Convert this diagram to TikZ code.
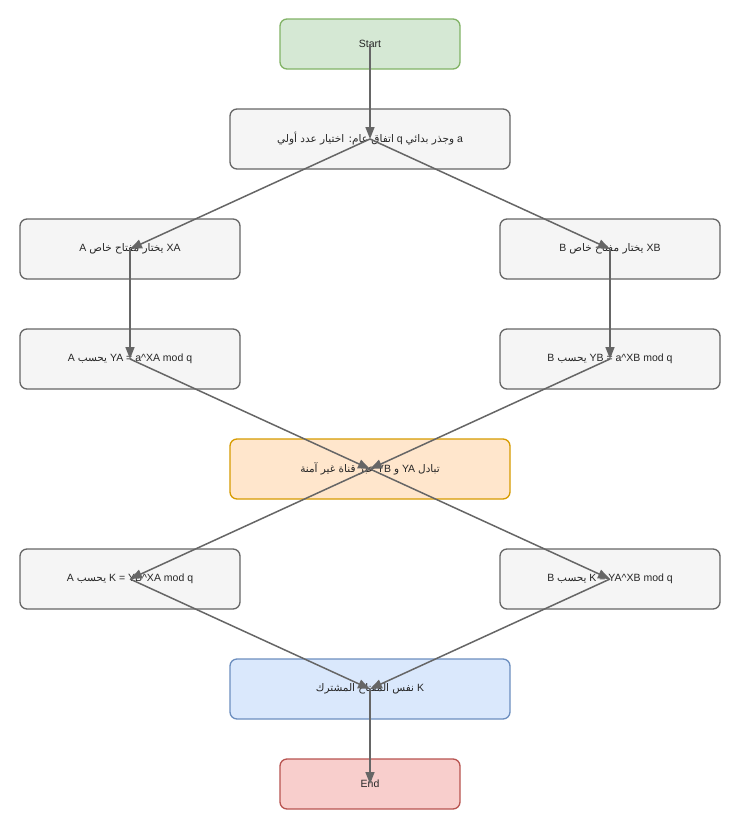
\documentclass[tikz,border=0pt]{standalone}
\usepackage{fontspec}
\setmainfont{Liberation Sans}
\newfontfamily\arfont[Script=Arabic]{DejaVu Sans}
\TeXXeTstate=1
\newcommand{\ar}[1]{{\arfont\beginR #1\endR}}
\usetikzlibrary{arrows.meta}
\definecolor{lc}{HTML}{666666}
\tikzset{
 box/.style={draw, rounded corners=7pt, line width=1.3pt, minimum height=60pt, font=\fontsize{10.5}{12}\selectfont, text=black!85},
 side/.style={box, minimum width=220pt, fill=black!4, draw=lc},
 wide/.style={box, minimum width=280pt},
 term/.style={box, minimum width=180pt, minimum height=50pt},
 arr/.style={draw=lc, line width=1.5pt, -{Triangle[length=12pt,width=9pt]}, fill=lc}
}
\begin{document}
\begin{tikzpicture}[x=1pt,y=-1pt]
\useasboundingbox (0,0) rectangle (740,830);
\fill[white] (0,0) rectangle (740,830);
\node[term, fill={rgb,255:red,213;green,232;blue,212}, draw={rgb,255:red,130;green,179;blue,102}] (start) at (370,44) {Start};
\node[wide, fill=black!4, draw=lc] (c) at (370,139) {\ar{اتفاق عام: اختيار عدد أولي} q \ar{وجذر بدائي} a};
\node[side] (a1) at (130,249) {A \ar{يختار مفتاح خاص} XA};
\node[side] (b1) at (610,249) {B \ar{يختار مفتاح خاص} XB};
\node[side] (a2) at (130,359) {A \ar{يحسب} YA = a\^{}XA mod q};
\node[side] (b2) at (610,359) {B \ar{يحسب} YB = a\^{}XB mod q};
\node[wide, fill={rgb,255:red,255;green,230;blue,204}, draw={rgb,255:red,215;green,155;blue,0}] (x) at (370,469) {\ar{عبر قناة غير آمنة} YB \ar{و} YA \ar{تبادل}};
\node[side] (a3) at (130,579) {A \ar{يحسب} K = YB\^{}XA mod q};
\node[side] (b3) at (610,579) {B \ar{يحسب} K = YA\^{}XB mod q};
\node[wide, fill={rgb,255:red,218;green,232;blue,252}, draw={rgb,255:red,108;green,142;blue,191}] (k) at (370,689) {\ar{نفس المفتاح المشترك} K};
\node[term, fill={rgb,255:red,248;green,206;blue,204}, draw={rgb,255:red,184;green,84;blue,80}] (end) at (370,784) {End};
\draw[arr] (start.center) -- (c.center);
\draw[arr] (c.center) -- (a1.center);
\draw[arr] (c.center) -- (b1.center);
\draw[arr] (a1.center) -- (a2.center);
\draw[arr] (b1.center) -- (b2.center);
\draw[arr] (a2.center) -- (x.center);
\draw[arr] (b2.center) -- (x.center);
\draw[arr] (x.center) -- (a3.center);
\draw[arr] (x.center) -- (b3.center);
\draw[arr] (a3.center) -- (k.center);
\draw[arr] (b3.center) -- (k.center);
\draw[arr] (k.center) -- (end.center);
\end{tikzpicture}
\end{document}
